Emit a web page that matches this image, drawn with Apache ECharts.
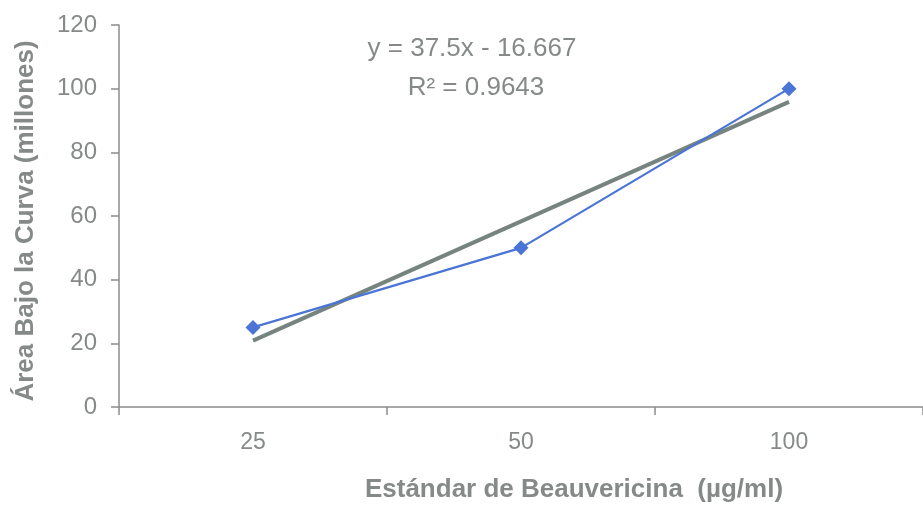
<!DOCTYPE html>
<html>
<head>
<meta charset="utf-8">
<script src="https://cdn.jsdelivr.net/npm/echarts@6/dist/echarts.min.js"></script>
<style>html,body{margin:0;padding:0;background:#fff;}#c{width:923px;height:508px;}</style>
</head>
<body>
<div id="c"></div>
<script>
var categories = ['25', '50', '100'];
var areaValues = [25, 50, 100];
var trendValues = [20.833, 58.333, 95.833];
var yTicks = [0, 20, 40, 60, 80, 100, 120];
var equationText = 'y = 37.5x - 16.667';
var r2Text = 'R² = 0.9643';

var grey = '#858a88';
var chart = echarts.init(document.getElementById('c'));
chart.setOption({
  backgroundColor: '#ffffff',
  animation: false,
  grid: { left: 119, right: 0, top: 25, bottom: 99 },
  xAxis: {
    type: 'category',
    data: categories,
    boundaryGap: true,
    name: 'Estándar de Beauvericina  (µg/ml)',
    nameLocation: 'middle',
    nameGap: 70,
    nameTextStyle: { fontFamily: 'Liberation Sans', fontSize: 26, fontWeight: 'bold', color: grey, padding: [0, 0, 0, 106] },
    axisLine: { lineStyle: { color: '#8c8c8c', width: 1.5 } },
    axisTick: { show: true, length: 8, lineStyle: { color: '#8c8c8c', width: 1.5 } },
    axisLabel: { fontFamily: 'Liberation Sans', fontSize: 23, color: grey, margin: 24 },
    splitLine: { show: false }
  },
  yAxis: {
    type: 'value',
    min: yTicks[0],
    max: yTicks[yTicks.length - 1],
    interval: 20,
    name: 'Área Bajo la Curva (millones)',
    nameLocation: 'middle',
    nameGap: 80,
    nameTextStyle: { fontFamily: 'Liberation Sans', fontSize: 26, fontWeight: 'bold', color: grey, padding: [0, 10, 0, 0] },
    axisLine: { show: true, lineStyle: { color: '#8c8c8c', width: 1.5 } },
    axisTick: { show: true, length: 8, lineStyle: { color: '#8c8c8c', width: 1.5 } },
    axisLabel: { fontFamily: 'Liberation Sans', fontSize: 24, color: grey, margin: 22 },
    splitLine: { show: false }
  },
  series: [
    {
      type: 'line',
      data: trendValues,
      symbol: 'none',
      lineStyle: { color: '#76847f', width: 4 },
      z: 2
    },
    {
      type: 'line',
      data: areaValues,
      symbol: 'diamond',
      symbolSize: 15,
      itemStyle: { color: '#4a74d6' },
      lineStyle: { color: '#4a74d6', width: 2.2 },
      z: 3
    }
  ],
  graphic: [
    { type: 'text', style: { text: equationText, x: 0, y: 0, font: '26px "Liberation Sans"', fill: grey, textAlign: 'center' }, position: [472, 36] },
    { type: 'text', style: { text: r2Text, x: 0, y: 0, font: '26px "Liberation Sans"', fill: grey, textAlign: 'center' }, position: [476, 75] }
  ]
});
</script>
</body>
</html>
